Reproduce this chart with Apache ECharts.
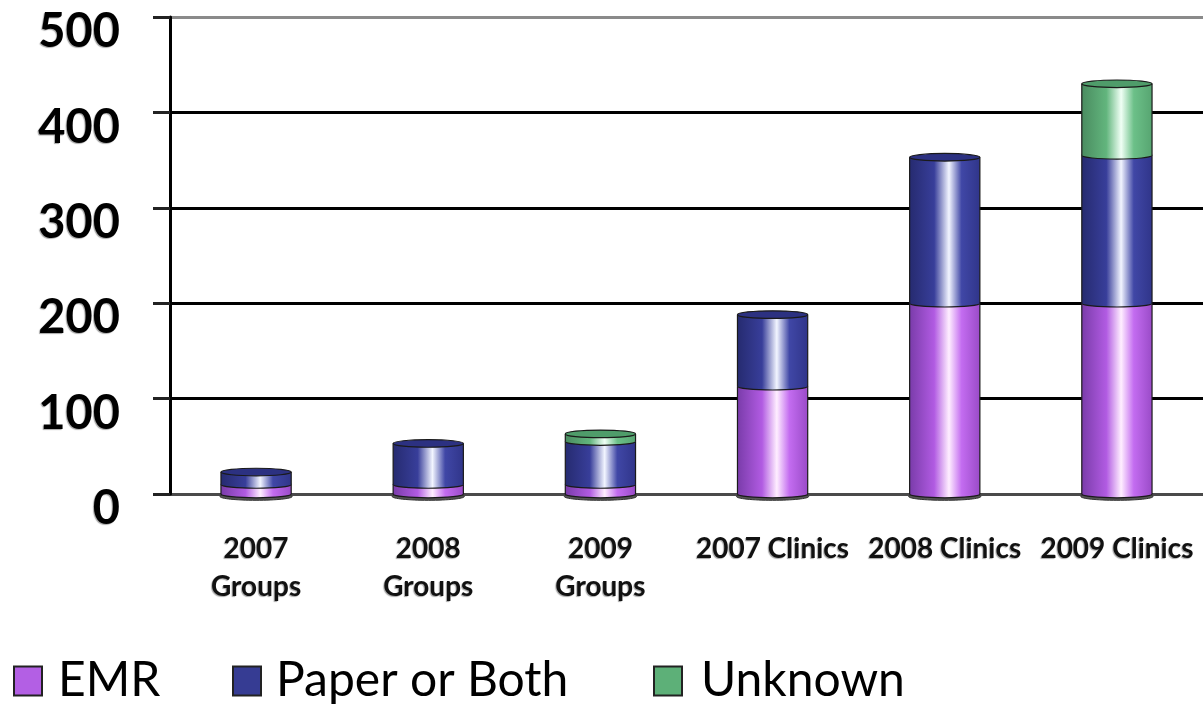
<!DOCTYPE html>
<html>
<head>
<meta charset="utf-8">
<script src="https://cdn.jsdelivr.net/npm/echarts@6/dist/echarts.min.js"></script>
<style>
  html, body { margin: 0; padding: 0; background: #fff; }
  #chart { width: 1203px; height: 712px; }
</style>
</head>
<body>
<div id="chart"></div>
<script>
// Record-keeping type by practice group / clinic and year
const categories = ['2007\nGroups', '2008\nGroups', '2009\nGroups', '2007 Clinics', '2008 Clinics', '2009 Clinics'];
const emr = [10, 10, 10, 113, 200, 200];
const paperOrBoth = [13, 43, 45, 75, 153, 155];
const unknown = [0, 0, 8, 0, 0, 75];
const seriesNames = ['EMR', 'Paper or Both', 'Unknown'];
const yTicks = { min: 0, max: 500, step: 100 };

// Cylinder shading per series: [left edge, body, highlight, right body, right edge], plus top cap
const palettes = [
  { base: '#B35FE4', stops: ['#7A3CAA', '#B15BE2', '#FFEEFF', '#C36CF0', '#9A4BC8'], cap: '#9C4FCB' },
  { base: '#363C93', stops: ['#262B70', '#383E9A', '#F2F5FF', '#4047A6', '#30358A'], cap: '#2C3181' },
  { base: '#5DB078', stops: ['#4A8C60', '#62B57D', '#F0FFF5', '#6CC088', '#57A571'], cap: '#4F9C6A' }
];

const layers = [emr, paperOrBoth, unknown];

// Stack the layers into [category, start, end, isTopSegment] rows
function buildRows(layerIndex) {
  return categories.map(function (_, i) {
    let start = 0;
    for (let k = 0; k < layerIndex; k++) start += layers[k][i];
    const end = start + layers[layerIndex][i];
    let above = 0;
    for (let k = layerIndex + 1; k < layers.length; k++) above += layers[k][i];
    return [i, start, end, above > 0 ? 0 : 1];
  });
}

function makeGradient(stops) {
  return new echarts.graphic.LinearGradient(0, 0, 1, 0, [
    { offset: 0, color: stops[0] },
    { offset: 0.35, color: stops[1] },
    { offset: 0.56, color: stops[2] },
    { offset: 0.74, color: stops[3] },
    { offset: 1, color: stops[4] }
  ]);
}

function cylinder(layerIndex) {
  const pal = palettes[layerIndex];
  return function (params, api) {
    const idx = api.value(0);
    const lo = api.value(1);
    const hi = api.value(2);
    const isTop = api.value(3);
    if (hi <= lo) return null;
    const p0 = api.coord([idx, lo]);
    const p1 = api.coord([idx, hi]);
    const band = api.size([1, 0])[0];
    const w = band * 0.408;
    const rx = w / 2;
    const ry = 3.8;
    const left = p0[0] - rx;
    const right = p0[0] + rx;
    const children = [];
    if (lo === 0) {
      children.push({
        type: 'ellipse',
        shape: { cx: p0[0], cy: p0[1] + 2.5, rx: rx + 1, ry: ry },
        style: { fill: '#555', stroke: '#333', lineWidth: 1 }
      });
    }
    children.push({
      type: 'ellipse',
      shape: { cx: p0[0], cy: p0[1], rx: rx, ry: ry },
      style: { fill: makeGradient(pal.stops), stroke: '#1a1a1a', lineWidth: 1.2 }
    });
    children.push({
      type: 'rect',
      shape: { x: left, y: p1[1], width: w, height: p0[1] - p1[1] },
      style: { fill: makeGradient(pal.stops) }
    });
    children.push({
      type: 'line',
      shape: { x1: left, y1: p1[1], x2: left, y2: p0[1] },
      style: { stroke: '#1a1a1a', lineWidth: 1.2 }
    });
    children.push({
      type: 'line',
      shape: { x1: right, y1: p1[1], x2: right, y2: p0[1] },
      style: { stroke: '#1a1a1a', lineWidth: 1.2 }
    });
    if (isTop) {
      children.push({
        type: 'ellipse',
        shape: { cx: p1[0], cy: p1[1], rx: rx, ry: ry },
        style: { fill: pal.cap, stroke: '#1a1a1a', lineWidth: 1.2 }
      });
    }
    return { type: 'group', children: children };
  };
}

const labelShadow = {
  textShadowColor: 'rgba(0,0,0,0.35)',
  textShadowBlur: 1,
  textShadowOffsetX: -1,
  textShadowOffsetY: 1
};

// One legend block per series so each entry sits at its own spot along the bottom
const legendLefts = [13, 232, 653];
const legendTextGaps = [11, 10, 14];
const legends = seriesNames.map(function (name, i) {
  return {
    left: legendLefts[i],
    top: 657,
    padding: 0,
    icon: 'rect',
    itemWidth: 28,
    itemHeight: 29,
    selectedMode: false,
    data: [{ name: name, itemStyle: { color: palettes[i].base, borderColor: '#222', borderWidth: 2 } }],
    textStyle: {
      fontFamily: 'Lato',
      fontSize: 48,
      color: '#000',
      verticalAlign: 'top',
      lineHeight: 34,
      padding: [0, 0, 0, legendTextGaps[i]]
    }
  };
});

const chart = echarts.init(document.getElementById('chart'), null, { renderer: 'canvas' });

chart.setOption({
  animation: false,
  backgroundColor: '#ffffff',
  grid: { left: 170, top: 17, width: 1038, height: 477, containLabel: false },
  legend: legends,
  xAxis: {
    type: 'category',
    data: categories,
    axisLine: { show: false },
    axisTick: { show: false },
    axisLabel: Object.assign({
      interval: 0,
      margin: 36,
      fontFamily: 'Lato',
      fontWeight: 'bold',
      fontSize: 28,
      lineHeight: 38,
      color: '#111'
    }, labelShadow)
  },
  yAxis: {
    type: 'value',
    min: yTicks.min,
    max: yTicks.max,
    interval: yTicks.step,
    axisLine: { show: true, lineStyle: { color: '#000', width: 3 } },
    axisTick: { show: true, length: 17, lineStyle: { color: '#222', width: 3 } },
    axisLabel: Object.assign({
      margin: 50,
      fontFamily: 'Lato',
      fontWeight: 'bold',
      fontSize: 47,
      color: '#000',
      verticalAlign: 'top',
      lineHeight: 30
    }, labelShadow),
    splitLine: {
      show: true,
      lineStyle: { color: ['#4a4a4a', '#000', '#000', '#000', '#000', '#8a8a8a'], width: 3 }
    }
  },
  series: seriesNames.map(function (name, i) {
    return {
      name: name,
      type: 'custom',
      renderItem: cylinder(i),
      itemStyle: { color: palettes[i].base },
      encode: { x: 0, y: [1, 2] },
      data: buildRows(i),
      z: 2 + i
    };
  })
});
</script>
</body>
</html>
